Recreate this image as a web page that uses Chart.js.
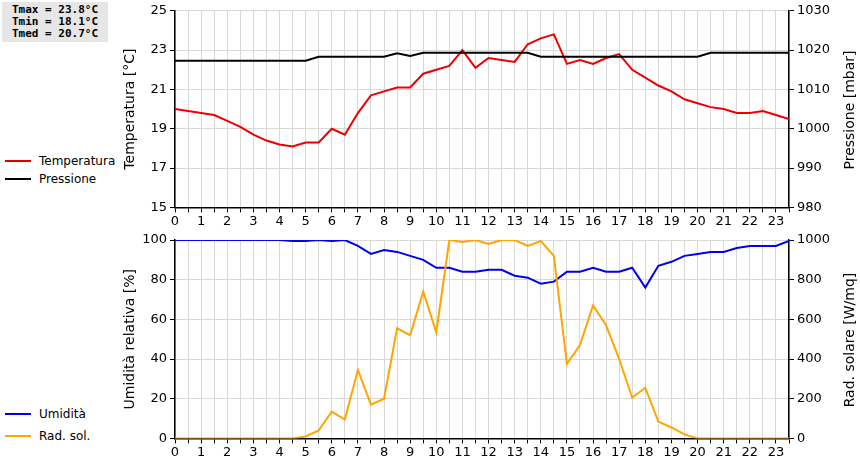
<!DOCTYPE html>
<html>
<head>
<meta charset="utf-8">
<script src="https://cdn.jsdelivr.net/npm/chart.js@4/dist/chart.umd.min.js"></script>
<style>
  body { margin: 0; background: #fff; font-family: 'DejaVu Sans', sans-serif; }
  #wrap { position: relative; width: 860px; height: 460px; }
  .cv { position: absolute; left: 120px; width: 740px; }
  #stats { position: absolute; left: 2px; top: 2px; width: 106px; height: 38px; background: #e6e6e6;
           font: bold 11px 'DejaVu Sans Mono', monospace; line-height: 12px; padding-top: 2px; text-align: center; }
  .leg { position: absolute; left: 5px; font-size: 12px; display: flex; align-items: center; }
  .leg i { display: inline-block; width: 26px; height: 2px; margin-right: 8px; }
  .rt { position: absolute; font-size: 14px; white-space: nowrap; transform: translate(-50%, -50%) rotate(-90deg); }
</style>
</head>
<body>
<div id="wrap">
  <div id="stats">Tmax = 23.8°C<br>Tmin = 18.1°C<br>Tmed = 20.7°C</div>
  <div class="leg" style="top:154px"><i style="background:#e00000"></i>Temperatura</div>
  <div class="leg" style="top:172px"><i style="background:#000"></i>Pressione</div>
  <div class="leg" style="top:407px"><i style="background:#0000ee"></i>Umidità</div>
  <div class="leg" style="top:429px"><i style="background:#ffa500"></i>Rad. sol.</div>
  <div class="cv" style="top:0;height:230px"><canvas id="top"></canvas></div>
  <div class="cv" style="top:229px;height:232px"><canvas id="bot"></canvas></div>
  <div class="rt" style="left:849px;top:110px">Pressione [mbar]</div>
  <div class="rt" style="left:849px;top:340px">Rad. solare [W/mq]</div>
</div>
<script>
// half-hour steps 0 .. 23.5
const hours = Array.from({ length: 48 }, (_, i) => i / 2);

const temperatura = [20.0,19.9,19.8,19.7,19.4,19.1,18.7,18.4,18.2,18.1,18.3,18.3,19.0,18.7,19.8,20.7,
  20.9,21.1,21.1,21.8,22.0,22.2,23.0,22.1,22.6,22.5,22.4,23.3,23.6,23.8,22.3,22.5,
  22.3,22.6,22.8,22.0,21.6,21.2,20.9,20.5,20.3,20.1,20.0,19.8,19.8,19.9,19.7,19.5];
const pressione = [1017.3,1017.3,1017.3,1017.3,1017.3,1017.3,1017.3,1017.3,1017.3,1017.3,1017.3,1018.3,1018.3,1018.3,1018.3,1018.3,
  1018.3,1019.2,1018.5,1019.3,1019.3,1019.3,1019.3,1019.3,1019.3,1019.3,1019.3,1019.3,1018.3,1018.3,1018.3,1018.3,
  1018.3,1018.3,1018.3,1018.3,1018.3,1018.3,1018.3,1018.3,1018.3,1019.3,1019.3,1019.3,1019.3,1019.3,1019.3,1019.3];
const umidita = [100,100,100,100,100,100,100,100,100,99.5,99.5,100,99.5,100,97,93,
  95,94,92,90,86,86,84,84,85,85,82,81,78,79,84,84,
  86,84,84,86,76,87,89,92,93,94,94,96,97,97,97,99.5];
const radSol = [0,0,0,0,0,0,0,0,0,0,10,40,135,95,345,170,
  200,555,520,740,535,1000,990,1000,980,1000,1000,970,995,920,375,470,
  670,570,400,205,255,85,55,20,0,0,0,0,0,0,0,0];

const tempTicks = [15, 17, 19, 21, 23, 25];
const pressTicks = [980, 990, 1000, 1010, 1020, 1030];

Chart.defaults.font.family = "'DejaVu Sans', sans-serif";
Chart.defaults.color = '#000';
Chart.defaults.animation = false;

const pts = arr => arr.map((v, i) => ({ x: hours[i], y: v }));
const grid = { color: '#d8d8d8', tickColor: '#000', tickLength: 5 };

function xAxis() {
  return {
    type: 'linear', min: 0, max: 23.5,
    grid: grid, border: { color: '#000', width: 1.5 },
    ticks: { stepSize: 0.5, autoSkip: false, maxRotation: 0, font: { size: 13 }, padding: 1,
             callback: v => Number.isInteger(v) ? v : '' }
  };
}

function yAxis(pos, min, max, step, title, w, showGrid) {
  return {
    position: pos, min, max,
    grid: showGrid ? { color: '#d8d8d8', tickColor: '#000', tickLength: 5 } : { drawOnChartArea: false, tickColor: '#000', tickLength: 5 },
    border: { color: '#000', width: 1.5 },
    ticks: { stepSize: step, font: { size: 13 }, padding: 3, callback: v => String(v) },
    title: { display: !!title, text: title, font: { size: 14 }, padding: 2 },
    afterFit: s => { s.width = w; }
  };
}

function line(data, color, axis) {
  return { data: pts(data), borderColor: color, borderWidth: 2, pointRadius: 0, yAxisID: axis, tension: 0 };
}

new Chart(document.getElementById('top'), {
  type: 'line',
  data: { datasets: [
    line(pressione, '#000000', 'press'),
    line(temperatura, '#ee0000', 'temp')
  ] },
  options: {
    responsive: true, maintainAspectRatio: false,
    layout: { padding: { top: 10, bottom: 0, left: 0, right: 0 } },
    plugins: { legend: { display: false }, tooltip: { enabled: false } },
    scales: {
      x: xAxis(),
      temp: yAxis('left', tempTicks[0], tempTicks[tempTicks.length - 1], 2, 'Temperatura [°C]', 55, true),
      press: yAxis('right', pressTicks[0], pressTicks[pressTicks.length - 1], 10, '', 71, false)
    }
  }
});

new Chart(document.getElementById('bot'), {
  type: 'line',
  data: { datasets: [
    line(radSol, '#ffa500', 'sol'),
    line(umidita, '#0000ee', 'umid')
  ] },
  options: {
    responsive: true, maintainAspectRatio: false,
    layout: { padding: { top: 11, bottom: 0, left: 0, right: 0 } },
    plugins: { legend: { display: false }, tooltip: { enabled: false } },
    scales: {
      x: xAxis(),
      umid: yAxis('left', 0, 100, 20, 'Umidità relativa [%]', 55, true),
      sol: yAxis('right', 0, 1000, 200, '', 71, false)
    }
  }
});
</script>
</body>
</html>
